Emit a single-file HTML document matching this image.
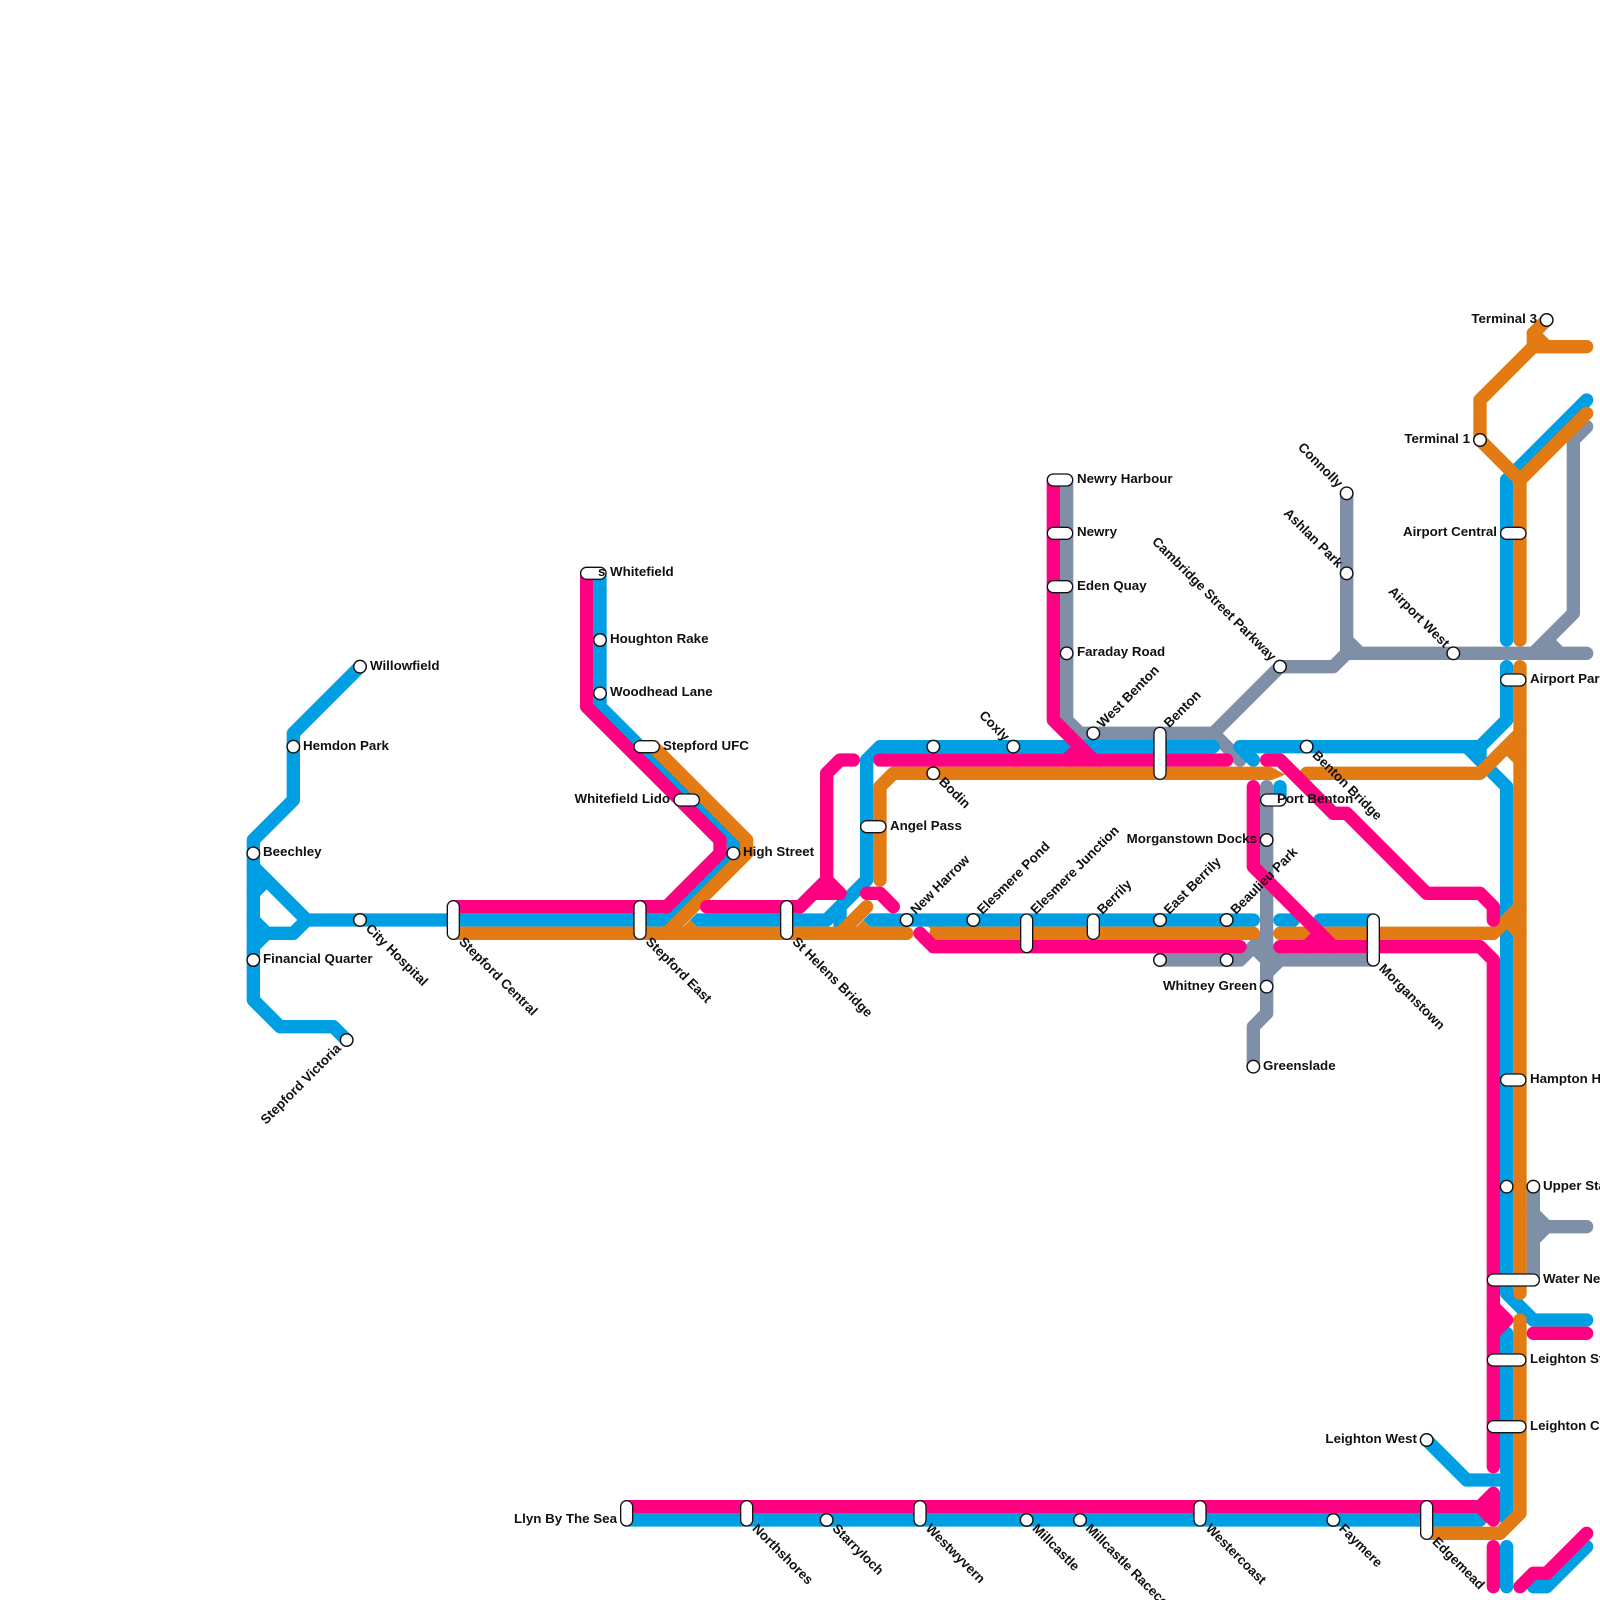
<!DOCTYPE html>
<html>
<head>
<meta charset="utf-8">
<style>
html,body{margin:0;padding:0;background:#fff}
svg{display:block}
text{font-family:"Liberation Sans",Arial,sans-serif;font-weight:700;font-size:13.33px;fill:#111}
.l{fill:none;stroke-width:1;stroke-linecap:round;stroke-linejoin:round}
</style>
</head>
<body>
<svg width="1600" height="1600" viewBox="0 0 1600 1600" xmlns="http://www.w3.org/2000/svg">
<g transform="scale(13.3333)">
<!-- grey -->
<g class="l" stroke="#7f8fa8">
<path d="M80 36V54L81 55H91L96 50H100L101 49H119"/>
<path d="M91 55L93 57"/>
<path d="M101 37V48L102 49"/>
<path d="M101 48V49"/>
<path d="M119 32L118 33V46L115 49"/>
<path d="M116 48L117 49"/>
<path d="M95 59V76L94 77V80"/>
<path d="M87 72H93L95 70"/>
<path d="M94 71L95 72"/>
<path d="M95 71L96 72H103"/>
<path d="M95 73L96 72"/>
<path d="M115 89V96"/>
<path d="M115 91L116 92H119"/>
<path d="M115 93L116 92"/>
</g>
<!-- blue -->
<g class="l" stroke="#009fe3">
<path d="M27 50L22 55V60L19 63V75L21 77H25L26 78"/>
<path d="M19 65L23 69H50L55 64V63L45 53V43"/>
<path d="M19 67L20 66"/>
<path d="M19 69L20 70H22L23 69"/>
<path d="M19 71L20 70"/>
<path d="M53 69H62L65 66V57L66 56H91"/>
<path d="M63 68V69.3"/>
<path d="M66 69H94"/>
<path d="M94 57L93 56H111L113 54V50"/>
<path d="M110 56L113 59V97L115 99H119"/>
<path d="M111 56V57"/>
<path d="M96 59V60"/>
<path d="M96 69H97"/>
<path d="M99 69H103"/>
<path d="M113 36L119 30"/>
<path d="M113 36V48"/>
<path d="M113 100V114"/>
<path d="M107 108L110 111H113"/>
<path d="M47 114H111"/>
<path d="M113 116V119"/>
<path d="M115 119H116L119 116"/>
</g>
<polygon points="51.75,69 52.25,68.5 54,68.5 54,69.5 52.25,69.5" fill="#009fe3"/>
<polygon points="64.75,69 65.25,68.5 67,68.5 67,69.5 65.25,69.5" fill="#009fe3"/>
<!-- orange -->
<g class="l" stroke="#e27b14">
<path d="M34 70H68" stroke-linecap="butt"/>
<path d="M68 70H68.01"/>
<path d="M49 56L56 63V64L50 70"/>
<path d="M63 70L65 68"/>
<path d="M66 66V59L67 58H95"/>
<path d="M70.2 70H94"/>
<path d="M96 70H112L114 68"/>
<path d="M113 69L114 70"/>
<path d="M98 58H111L114 55"/>
<path d="M113 56L114 57"/>
<path d="M114 50V97"/>
<path d="M114 36V48"/>
<path d="M116 24L115 25V26L111 30V33L114 36L119 31"/>
<path d="M115 25L116 26"/>
<path d="M115 26H119"/>
<path d="M114 99V113.5L112.5 115H107"/>
</g>
<polygon points="51.75,69 51.2,69.55 52.3,69.55" fill="#e27b14"/>
<polygon points="64.75,69 64.2,69.55 65.3,69.55" fill="#e27b14"/>
<polygon points="94.8,57.5 95.3,57.5 96.4,58.1 95.4,58.5 94.8,58.5" fill="#e27b14"/>
<polygon points="69.6,69.5 71,69.5 71,70.5 70.6,70.5" fill="#e27b14"/>
<!-- pink -->
<g class="l" stroke="#ff0082">
<path d="M34 68H50L54 64V63L44 53V43"/>
<path d="M53 68H60L62 66V58L63 57H64"/>
<path d="M60 68L61 67H63L62 66"/>
<path d="M65 67H66L67 68"/>
<path d="M66 57H92"/>
<path d="M79 36V54L82 57"/>
<path d="M80 57L81 56"/>
<path d="M69 70L70 71H93"/>
<path d="M94 59V65L100 71"/>
<path d="M98 71L99 70"/>
<path d="M96 71H111L112 72V110"/>
<path d="M95 57H96L100 61H101L107 67H111L112 68V69"/>
<path d="M112 98L113 99L112 100"/>
<path d="M115 100H119"/>
<path d="M47 113H111L112 112V114L111 113"/>
<path d="M112 116V119"/>
<path d="M114 119L115 118H116L119 115"/>
</g>
<!-- pills -->
<g fill="none" stroke-linecap="round">
<g stroke="#111" stroke-width="1">
<path d="M34 68V70M48 68V70M59 68V70M77 69V71M82 69V70M87 55V58M103 69V72M47 113V114M56 113V114M69 113V114M90 113V114M107 113V115"/>
<path d="M44 43H45M48 56H49M51 60H52M65 62H66M79 36H80M79 40H80M79 44H80M95 60H96M113 40H114M113 51H114M113 81H114M112 96H115M112 102H114M112 107H114"/>
</g>
<g stroke="#fff" stroke-width=".8">
<path d="M34 68V70M48 68V70M59 68V70M77 69V71M82 69V70M87 55V58M103 69V72M47 113V114M56 113V114M69 113V114M90 113V114M107 113V115"/>
<path d="M44 43H45M48 56H49M51 60H52M65 62H66M79 36H80M79 40H80M79 44H80M95 60H96M113 40H114M113 51H114M113 81H114M112 96H115M112 102H114M112 107H114"/>
</g>
</g>
<!-- stations -->
<g fill="#fff" stroke="#111" stroke-width=".11">
<circle cx="27" cy="50" r=".47"/><circle cx="22" cy="56" r=".47"/><circle cx="19" cy="64" r=".47"/><circle cx="19" cy="72" r=".47"/>
<circle cx="27" cy="69" r=".47"/><circle cx="26" cy="78" r=".47"/>
<circle cx="45" cy="48" r=".47"/><circle cx="45" cy="52" r=".47"/><circle cx="55" cy="64" r=".47"/>
<circle cx="68" cy="69" r=".47"/><circle cx="70" cy="56" r=".47"/><circle cx="70" cy="58" r=".47"/><circle cx="73" cy="69" r=".47"/>
<circle cx="76" cy="56" r=".47"/><circle cx="80" cy="49" r=".47"/><circle cx="82" cy="55" r=".47"/>
<circle cx="87" cy="69" r=".47"/><circle cx="87" cy="72" r=".47"/><circle cx="92" cy="69" r=".47"/><circle cx="92" cy="72" r=".47"/>
<circle cx="95" cy="63" r=".47"/><circle cx="95" cy="74" r=".47"/><circle cx="94" cy="80" r=".47"/>
<circle cx="96" cy="50" r=".47"/><circle cx="98" cy="56" r=".47"/><circle cx="101" cy="37" r=".47"/><circle cx="101" cy="43" r=".47"/>
<circle cx="109" cy="49" r=".47"/><circle cx="111" cy="33" r=".47"/><circle cx="116" cy="24" r=".47"/>
<circle cx="113" cy="89" r=".47"/><circle cx="115" cy="89" r=".47"/><circle cx="107" cy="108" r=".47"/>
<circle cx="62" cy="114" r=".47"/><circle cx="77" cy="114" r=".47"/><circle cx="81" cy="114" r=".47"/><circle cx="100" cy="114" r=".47"/>
</g>
</g>
<!-- right labels -->
<text x="370" y="670">Willowfield</text>
<text x="303" y="750">Hemdon Park</text>
<text x="263" y="856">Beechley</text>
<text x="263" y="963">Financial Quarter</text>
<text x="610" y="576">Whitefield</text>
<text x="598" y="576">s</text>
<text x="610" y="643">Houghton Rake</text>
<text x="610" y="696">Woodhead Lane</text>
<text x="663" y="750">Stepford UFC</text>
<text x="743" y="856">High Street</text>
<text x="890" y="830">Angel Pass</text>
<text x="1077" y="483">Newry Harbour</text>
<text x="1077" y="536">Newry</text>
<text x="1077" y="590">Eden Quay</text>
<text x="1077" y="656">Faraday Road</text>
<text x="1277" y="803">Port Benton</text>
<text x="1263" y="1070">Greenslade</text>
<text x="1530" y="683">Airport Park</text>
<text x="1530" y="1083">Hampton Hill</text>
<text x="1543" y="1190">Upper Stanley</text>
<text x="1543" y="1283">Water Newton</text>
<text x="1530" y="1363">Leighton Stadium</text>
<text x="1530" y="1430">Leighton Central</text>
<!-- left labels -->
<g text-anchor="end">
<text x="670" y="803">Whitefield Lido</text>
<text x="617" y="1523">Llyn By The Sea</text>
<text x="1257" y="843">Morganstown Docks</text>
<text x="1257" y="990">Whitney Green</text>
<text x="1417" y="1443">Leighton West</text>
<text x="1470" y="443">Terminal 1</text>
<text x="1537" y="323">Terminal 3</text>
<text x="1497" y="536">Airport Central</text>
</g>
<!-- down-right labels -->
<g>
<text transform="translate(360 920) rotate(45) translate(10 3)">City Hospital</text>
<text transform="translate(453.3 933.3) rotate(45) translate(10 3)">Stepford Central</text>
<text transform="translate(640 933.3) rotate(45) translate(10 3)">Stepford East</text>
<text transform="translate(786.7 933.3) rotate(45) translate(10 3)">St Helens Bridge</text>
<text transform="translate(933.3 773.3) rotate(45) translate(10 3)">Bodin</text>
<text transform="translate(1306.7 746.7) rotate(45) translate(10 3)">Benton Bridge</text>
<text transform="translate(1373.3 960) rotate(45) translate(10 3)">Morganstown</text>
<text transform="translate(746.7 1520) rotate(45) translate(10 3)">Northshores</text>
<text transform="translate(826.7 1520) rotate(45) translate(10 3)">Starryloch</text>
<text transform="translate(920 1520) rotate(45) translate(10 3)">Westwyvern</text>
<text transform="translate(1026.7 1520) rotate(45) translate(10 3)">Millcastle</text>
<text transform="translate(1080 1520) rotate(45) translate(10 3)">Millcastle Racecourse</text>
<text transform="translate(1200 1520) rotate(45) translate(10 3)">Westercoast</text>
<text transform="translate(1333.3 1520) rotate(45) translate(10 3)">Faymere</text>
<text transform="translate(1426.7 1533.3) rotate(45) translate(10 3)">Edgemead</text>
</g>
<!-- up-right labels -->
<g>
<text transform="translate(906.7 920) rotate(-45) translate(10 3)">New Harrow</text>
<text transform="translate(973.3 920) rotate(-45) translate(10 3)">Elesmere Pond</text>
<text transform="translate(1026.7 920) rotate(-45) translate(10 3)">Elesmere Junction</text>
<text transform="translate(1093.3 920) rotate(-45) translate(10 3)">Berrily</text>
<text transform="translate(1160 920) rotate(-45) translate(10 3)">East Berrily</text>
<text transform="translate(1226.7 920) rotate(-45) translate(10 3)">Beaulieu Park</text>
<text transform="translate(1093.3 733.3) rotate(-45) translate(10 3)">West Benton</text>
<text transform="translate(1160 733.3) rotate(-45) translate(10 3)">Benton</text>
</g>
<!-- up-left labels -->
<g text-anchor="end">
<text transform="translate(1013.3 746.7) rotate(45) translate(-10 3)">Coxly</text>
<text transform="translate(1280 666.7) rotate(45) translate(-10 3)">Cambridge Street Parkway</text>
<text transform="translate(1346.7 493.3) rotate(45) translate(-10 3)">Connolly</text>
<text transform="translate(1346.7 573.3) rotate(45) translate(-10 3)">Ashlan Park</text>
<text transform="translate(1453.3 653.3) rotate(45) translate(-10 3)">Airport West</text>
<text transform="translate(346.7 1040) rotate(-45) translate(-10 3)">Stepford Victoria</text>
</g>
</svg>
</body>
</html>
